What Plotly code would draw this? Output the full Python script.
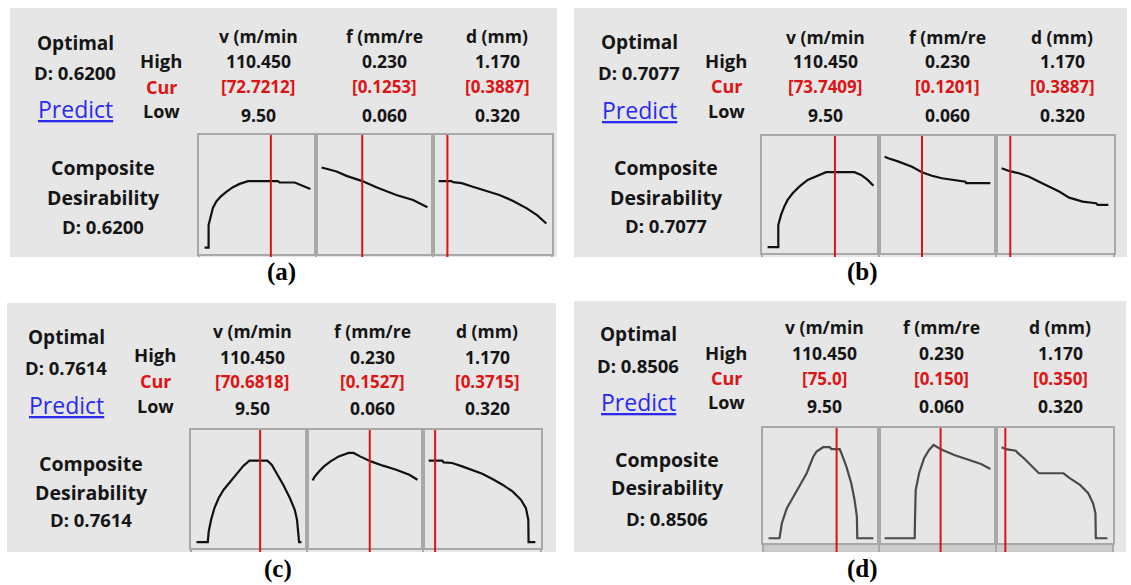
import plotly.graph_objects as go

W, H = 1131, 585

# ---------------- data ----------------
factor_names = ["v (m/min", "f (mm/re", "d (mm)"]
factor_low = [9.5, 0.06, 0.32]
factor_high = [110.45, 0.23, 1.17]
high_labels = ["110.450", "0.230", "1.170"]
low_labels = ["9.50", "0.060", "0.320"]
panel_captions = ["(a)", "(b)", "(c)", "(d)"]
optimal_D = ["0.6200", "0.7077", "0.7614", "0.8506"]

cur_a = [72.7212, 0.1253, 0.3887]
cur_b = [73.7409, 0.1201, 0.3887]
cur_c = [70.6818, 0.1527, 0.3715]
cur_d = [75.0, 0.150, 0.350]
cur_labels_a = ["[72.7212]", "[0.1253]", "[0.3887]"]
cur_labels_b = ["[73.7409]", "[0.1201]", "[0.3887]"]
cur_labels_c = ["[70.6818]", "[0.1527]", "[0.3715]"]
cur_labels_d = ["[75.0]", "[0.150]", "[0.350]"]

# composite desirability curves (x = factor value, y = D)
a_v_x = [9.5, 13.3, 13.3, 15.2, 17.4, 20.7, 24.8, 30.2, 36.5, 42.9, 50.9, 79.5, 81.1, 95.5, 105.0, 110.45]
a_v_y = [0, 0, 0.21, 0.30, 0.37, 0.43, 0.475, 0.52, 0.563, 0.594, 0.62, 0.62, 0.607, 0.607, 0.569, 0.547]
a_f_x = [0.06, 0.071, 0.084, 0.100, 0.1253, 0.148, 0.180, 0.207, 0.23]
a_f_y = [0.747, 0.732, 0.710, 0.669, 0.62, 0.563, 0.491, 0.444, 0.376]
a_d_x = [0.32, 0.421, 0.434, 0.502, 0.583, 0.691, 0.799, 0.908, 1.016, 1.097, 1.17]
a_d_y = [0.62, 0.62, 0.61, 0.601, 0.569, 0.531, 0.491, 0.435, 0.366, 0.303, 0.225]

b_v_x = [9.5, 19.7, 19.7, 22.3, 25.4, 28.6, 33.4, 39.7, 47.7, 55.7, 65.3, 92.3, 98.7, 105.0, 110.45]
b_v_y = [0, 0, 0.21, 0.305, 0.383, 0.446, 0.509, 0.572, 0.635, 0.666, 0.708, 0.708, 0.682, 0.635, 0.581]
b_f_x = [0.06, 0.066, 0.0825, 0.104, 0.120, 0.136, 0.152, 0.174, 0.190, 0.191, 0.23]
b_f_y = [0.855, 0.84, 0.808, 0.760, 0.708, 0.675, 0.651, 0.632, 0.619, 0.604, 0.604]
b_d_x = [0.32, 0.378, 0.458, 0.538, 0.618, 0.698, 0.778, 0.858, 0.912, 0.965, 1.072, 1.085, 1.17]
b_d_y = [0.745, 0.72, 0.698, 0.666, 0.619, 0.572, 0.525, 0.468, 0.446, 0.430, 0.415, 0.399, 0.399]

c_v_x = [9.5, 20.3, 21.2, 23.5, 26.7, 30.8, 35.6, 42.0, 48.4, 54.7, 60.4, 77.6, 81.8, 86.6, 92.9, 99.3, 104.0, 106.2, 108.2, 110.45]
c_v_y = [0, 0, 0.10, 0.209, 0.319, 0.413, 0.491, 0.568, 0.647, 0.716, 0.763, 0.763, 0.725, 0.647, 0.538, 0.413, 0.303, 0.209, 0, 0]
c_f_x = [0.06, 0.0637, 0.0705, 0.0785, 0.0892, 0.1024, 0.1184, 0.1264, 0.137, 0.1546, 0.1742, 0.1956, 0.2168, 0.23]
c_f_y = [0.578, 0.615, 0.662, 0.709, 0.756, 0.803, 0.835, 0.835, 0.803, 0.756, 0.716, 0.678, 0.631, 0.584]
c_d_x = [0.32, 0.427, 0.44, 0.507, 0.587, 0.667, 0.747, 0.828, 0.908, 0.988, 1.055, 1.095, 1.114, 1.116, 1.17]
c_d_y = [0.763, 0.763, 0.747, 0.741, 0.709, 0.672, 0.641, 0.591, 0.538, 0.475, 0.397, 0.319, 0.209, 0, 0]

d_v_x = [9.5, 20.0, 22.3, 27.1, 33.4, 39.8, 46.2, 52.5, 55.7, 62.0, 68.4, 70.0, 78.0, 79.6, 84.4, 89.1, 92.3, 94.5, 94.9, 110.45]
d_v_y = [0, 0, 0.143, 0.286, 0.396, 0.508, 0.619, 0.777, 0.825, 0.867, 0.867, 0.848, 0.848, 0.81, 0.682, 0.524, 0.365, 0.206, 0, 0]
d_f_x = [0.06, 0.1084, 0.1089, 0.110, 0.1154, 0.1234, 0.1315, 0.1386, 0.145, 0.1531, 0.1719, 0.1935, 0.215, 0.23]
d_f_y = [0, 0, 0.206, 0.46, 0.619, 0.762, 0.841, 0.889, 0.867, 0.841, 0.793, 0.752, 0.708, 0.66]
d_d_x = [0.32, 0.354, 0.434, 0.447, 0.499, 0.553, 0.619, 0.817, 0.87, 0.95, 1.016, 1.055, 1.074, 1.077, 1.17]
d_d_y = [0.867, 0.848, 0.834, 0.815, 0.762, 0.698, 0.619, 0.619, 0.571, 0.508, 0.429, 0.333, 0.238, 0, 0]

curves = [
    [(a_v_x, a_v_y), (a_f_x, a_f_y), (a_d_x, a_d_y)],
    [(b_v_x, b_v_y), (b_f_x, b_f_y), (b_d_x, b_d_y)],
    [(c_v_x, c_v_y), (c_f_x, c_f_y), (c_d_x, c_d_y)],
    [(d_v_x, d_v_y), (d_f_x, d_f_y), (d_d_x, d_d_y)],
]
currents = [cur_a, cur_b, cur_c, cur_d]
cur_labels = [cur_labels_a, cur_labels_b, cur_labels_c, cur_labels_d]

# ---------------- layout geometry (pixels) ----------------
panels = [
    dict(bg=(10, 8, 557, 257), boxes=[199, 316, 433, 552], ytop=135, ybot=254, y0=-0.06,
         opt=(75, 43, 72, 109), hcl=(161, 61, 87, 111), cols=[258, 384, 497], rows=[36, 61, 86, 115],
         comp=(103, 167, 197, 227), cap=(281, 272), curve="#111111", band=False),
    dict(bg=(574, 8, 1127, 257), boxes=[762, 879, 996, 1114], ytop=136, ybot=253, y0=-0.055,
         opt=(639, 42, 72, 110), hcl=(726, 61, 86, 111), cols=[825, 947, 1062], rows=[37, 61, 86, 115],
         comp=(666, 167, 197, 226), cap=(862, 272), curve="#111111", band=False),
    dict(bg=(7, 303, 556, 552), boxes=[191, 307, 423, 541], ytop=430, ybot=548, y0=-0.055,
         opt=(66, 337, 367, 405), hcl=(155, 354, 381, 406), cols=[252, 373, 487], rows=[331, 357, 381, 408],
         comp=(91, 463, 492, 519), cap=(278, 569), curve="#111111", band=False),
    dict(bg=(574, 301, 1126, 552), boxes=[763, 879, 996, 1113], ytop=428, ybot=543, y0=-0.045,
         opt=(638, 334, 365, 402), hcl=(726, 352, 378, 402), cols=[824, 941, 1060], rows=[327, 353, 378, 406],
         comp=(667, 459, 487, 518), cap=(862, 569), curve="#4a4a4a", band=True),
]

PX = lambda x: x / W
PY = lambda y: 1 - y / H

BG = "#e6e6e6"
FRAME = "#a8a8a8"
RED = "#dc1414"
TXT = "#151515"
FONT = "Open Sans"

fig = go.Figure()
layout_axes = {}
shapes = []
annotations = []


def txt(s, x, y, size=17.5, color=TXT, weight="bold", family=FONT):
    annotations.append(dict(text=s, x=PX(x), y=PY(y), xref="paper", yref="paper", showarrow=False,
                            xanchor="center", yanchor="middle",
                            font=dict(family=family, size=size, color=color, weight=weight)))


n = 0
for pi, p in enumerate(panels):
    bx0, by0, bx1, by1 = p["bg"]
    shapes.append(dict(type="rect", xref="paper", yref="paper", x0=PX(bx0), x1=PX(bx1),
                       y0=PY(by1), y1=PY(by0), fillcolor=BG, line=dict(width=0), layer="below"))
    if p["band"]:
        shapes.append(dict(type="rect", xref="paper", yref="paper", x0=PX(p["boxes"][0]), x1=PX(p["boxes"][-1]),
                           y0=PY(by1), y1=PY(p["ybot"]), fillcolor="#cbcbcb", line=dict(width=0), layer="below"))
    # ticks / divider extensions below each box
    for bx in p["boxes"]:
        shapes.append(dict(type="line", xref="paper", yref="paper", x0=PX(bx), x1=PX(bx),
                           y0=PY(p["ybot"]), y1=PY(by1), line=dict(color=FRAME, width=2), layer="below"))
    for k in range(3):
        n += 1
        xa = "xaxis" if n == 1 else f"xaxis{n}"
        ya = "yaxis" if n == 1 else f"yaxis{n}"
        lo, hi = factor_low[k], factor_high[k]
        pad = 0.053 * (hi - lo)
        layout_axes[xa] = dict(domain=[PX(p["boxes"][k]), PX(p["boxes"][k + 1])], range=[lo - pad, hi + pad],
                               showline=True, mirror=True, linecolor=FRAME, linewidth=2,
                               showgrid=False, zeroline=False, showticklabels=False, ticks="",
                               anchor=f"y{n}" if n > 1 else "y", fixedrange=True)
        layout_axes[ya] = dict(domain=[PY(p["ybot"]), PY(p["ytop"])], range=[p["y0"], 1.05],
                               showline=True, mirror=True, linecolor=FRAME, linewidth=2,
                               showgrid=False, zeroline=False, showticklabels=False, ticks="",
                               anchor=f"x{n}" if n > 1 else "x", fixedrange=True)
        cx, cy = curves[pi][k]
        fig.add_trace(go.Scatter(x=cx, y=cy, mode="lines", line=dict(color=p["curve"], width=2.2),
                                 xaxis=f"x{n}" if n > 1 else "x", yaxis=f"y{n}" if n > 1 else "y",
                                 showlegend=False, hoverinfo="skip"))
        # red current-setting line
        shapes.append(dict(type="line", xref=f"x{n}" if n > 1 else "x", yref="paper",
                           x0=currents[pi][k], x1=currents[pi][k], y0=PY(by1), y1=PY(p["ytop"]),
                           line=dict(color=RED, width=2), layer="above"))
        # column texts
        cxp = p["cols"][k]
        txt(factor_names[k], cxp, p["rows"][0])
        txt(high_labels[k], cxp, p["rows"][1])
        txt(cur_labels[pi][k], cxp, p["rows"][2], size=17, color=RED, weight="bold")
        txt(low_labels[k], cxp, p["rows"][3])

    ox, oy1, oy2, oy3 = p["opt"]
    txt("Optimal", ox, oy1, size=19)
    txt("D: " + optimal_D[pi], ox, oy2, size=18.5)
    txt("<u>Predict</u>", ox, oy3, size=23, color="#2a2af0", weight="normal")
    hx, hy1, hy2, hy3 = p["hcl"]
    txt("High", hx, hy1, size=18.5)
    txt("Cur", hx, hy2, size=18, color=RED)
    txt("Low", hx, hy3, size=18)
    cx0, cy1, cy2, cy3 = p["comp"]
    txt("Composite", cx0, cy1, size=19.5)
    txt("Desirability", cx0, cy2, size=19.5)
    txt("D: " + optimal_D[pi], cx0, cy3, size=18.5)
    txt(panel_captions[pi], p["cap"][0], p["cap"][1], size=25, color="#000000",
        weight="bold", family="Liberation Serif")

fig.update_layout(width=W, height=H, margin=dict(l=0, r=0, t=0, b=0), autosize=False,
                  paper_bgcolor="white", plot_bgcolor="white", showlegend=False,
                  shapes=shapes, annotations=annotations, **layout_axes)

fig.write_html("out.html", config={"displayModeBar": False})
